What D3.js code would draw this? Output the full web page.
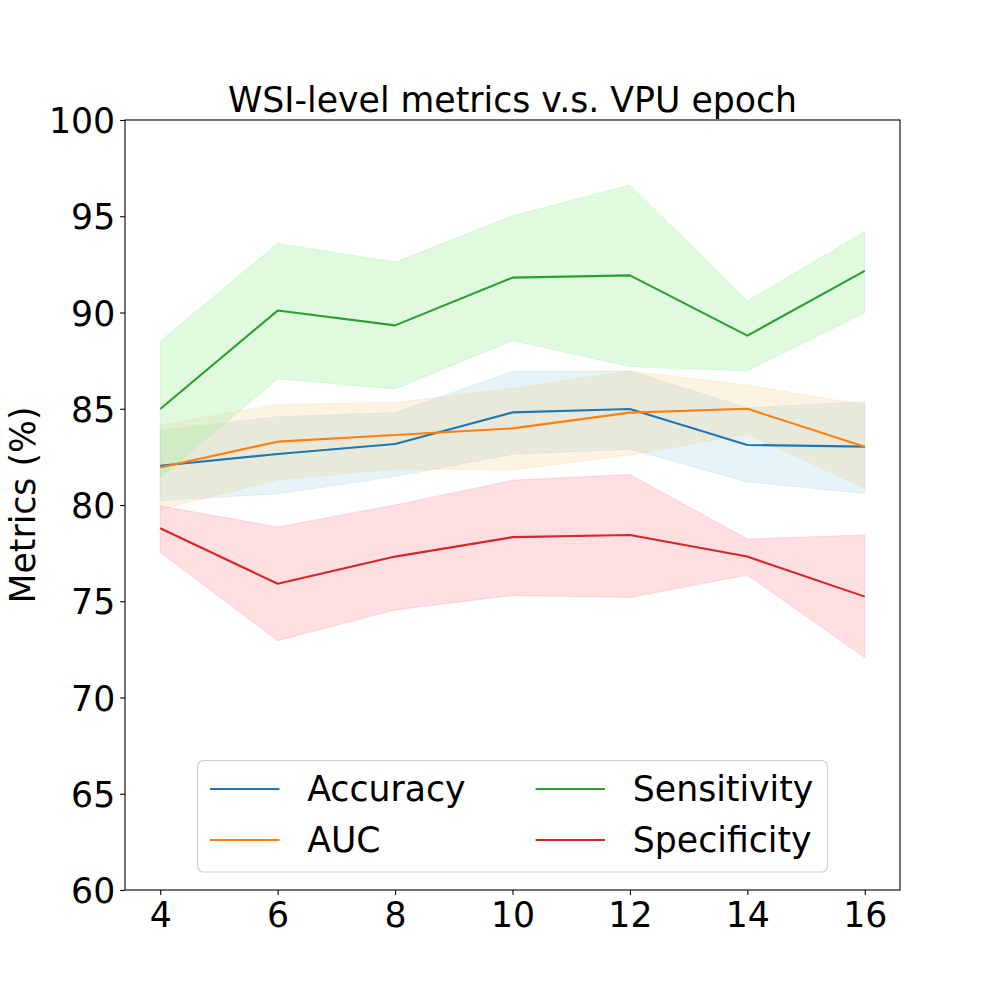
<!DOCTYPE html>
<html>
<head>
<meta charset="utf-8">
<script src="https://cdn.jsdelivr.net/npm/d3@7"></script>
<style>
  body { margin: 0; background: #fff; }
  text { font-family: "DejaVu Sans", sans-serif; fill: #000; }
</style>
</head>
<body>
<div id="chart"></div>
<script>
// epochs on the x axis
let epochs = [4, 6, 8, 10, 12, 14, 16];

// mean and band limits
let accMean = [82.04, 82.65, 83.17, 84.81, 84.99, 83.12, 83.03];
let accLow  = [80.23, 80.58, 81.48, 82.64, 82.90, 81.20, 80.60];
let accHigh = [83.86, 84.58, 84.80, 86.93, 86.96, 85.04, 85.37];

let aucMean = [81.95, 83.29, 83.64, 83.98, 84.80, 85.00, 83.03];
let aucLow  = [79.75, 81.31, 81.87, 81.82, 82.60, 83.69, 80.87];
let aucHigh = [84.16, 85.22, 85.33, 86.05, 86.96, 86.23, 85.19];

let sensMean = [84.99, 90.10, 89.33, 91.81, 91.93, 88.80, 92.16];
let sensLow  = [81.42, 86.55, 86.03, 88.54, 87.19, 86.96, 89.99];
let sensHigh = [88.52, 93.59, 92.62, 95.02, 96.62, 90.60, 94.20];

let specMean = [78.79, 75.91, 77.32, 78.33, 78.44, 77.32, 75.24];
let specLow  = [77.54, 72.95, 74.55, 75.30, 75.20, 76.36, 72.07];
let specHigh = [79.95, 78.86, 80.00, 81.28, 81.59, 78.23, 78.44];

let seriesNames = ["Accuracy", "AUC", "Sensitivity", "Specificity"];
let yTicks = [60, 65, 70, 75, 80, 85, 90, 95, 100];
let xTicks = [4, 6, 8, 10, 12, 14, 16];

let lineColors = ["#1f77b4", "#ff7f0e", "#2ca02c", "#d62728"];
let fillColors = ["rgb(173,216,230)", "rgb(245,195,110)", "rgb(144,238,144)", "rgb(255,150,160)"];
let fillAlpha = [0.3, 0.2, 0.28, 0.3];

let series = [
    {mean: accMean, low: accLow, high: accHigh},
    {mean: aucMean, low: aucLow, high: aucHigh},
    {mean: sensMean, low: sensLow, high: sensHigh},
    {mean: specMean, low: specLow, high: specHigh}
];

// set the dimensions and margins of the graph
let margin = {top: 120, right: 100, bottom: 110, left: 125},
    width = 1000 - margin.left - margin.right,
    height = 1000 - margin.top - margin.bottom;

let fs = 34.7;

let svg = d3.select("#chart")
    .append("svg")
    .attr("width", 1000)
    .attr("height", 1000);

let g = svg.append("g")
    .attr("transform", "translate(" + margin.left + "," + margin.top + ")");

let x = d3.scaleLinear().domain([3.4, 16.6]).range([0, width]);
let y = d3.scaleLinear().domain([60, 100]).range([height, 0]);

// bands
series.forEach(function(s, i) {
    let pts = epochs.map(function(e, j) { return {e: e, lo: s.low[j], hi: s.high[j]}; });
    g.append("path")
        .datum(pts)
        .attr("fill", fillColors[i])
        .attr("fill-opacity", fillAlpha[i])
        .attr("stroke", fillColors[i])
        .attr("stroke-opacity", fillAlpha[i])
        .attr("stroke-width", 1)
        .attr("d", d3.area()
              .x(function(d) { return x(d.e); })
              .y0(function(d) { return y(d.lo); })
              .y1(function(d) { return y(d.hi); }));
});

// mean lines
series.forEach(function(s, i) {
    let pts = epochs.map(function(e, j) { return {e: e, v: s.mean[j]}; });
    g.append("path")
        .datum(pts)
        .attr("fill", "none")
        .attr("stroke", lineColors[i])
        .attr("stroke-width", 2.1)
        .attr("stroke-linejoin", "round")
        .attr("d", d3.line()
              .x(function(d) { return x(d.e); })
              .y(function(d) { return y(d.v); }));
});

// axes
let xAxis = g.append("g")
    .attr("transform", "translate(0," + height + ")")
    .call(d3.axisBottom(x).tickValues(xTicks).tickSize(4.9).tickPadding(4.9).tickSizeOuter(0));
xAxis.selectAll("text").attr("font-size", fs).attr("dy", 0).attr("y", 37);

let yAxis = g.append("g")
    .call(d3.axisLeft(y).tickValues(yTicks).tickSize(4.9).tickPadding(4.9).tickSizeOuter(0));
yAxis.selectAll("text").attr("font-size", fs).attr("dy", 12.7);

svg.selectAll(".domain").remove();
svg.selectAll(".tick line").attr("stroke", "#000").attr("stroke-width", 1.1);

// frame
g.append("rect")
    .attr("width", width)
    .attr("height", height)
    .attr("fill", "none")
    .attr("stroke", "#000")
    .attr("stroke-width", 1.1);

// title and y label
svg.append("text")
    .attr("x", margin.left + width / 2)
    .attr("y", 112)
    .attr("text-anchor", "middle")
    .attr("font-size", fs)
    .text("WSI-level metrics v.s. VPU epoch");

svg.append("text")
    .attr("transform", "translate(35," + (margin.top + height / 2) + ") rotate(-90)")
    .attr("text-anchor", "middle")
    .attr("font-size", fs)
    .text("Metrics (%)");

// legend
let legend = svg.append("g");
legend.append("rect")
    .attr("x", 197.5)
    .attr("y", 760.5)
    .attr("width", 630)
    .attr("height", 111.5)
    .attr("rx", 6)
    .attr("fill", "#fff")
    .attr("fill-opacity", 0.8)
    .attr("stroke", "#d0d0d0")
    .attr("stroke-width", 1.1);

let colX = [210, 535.6];
let rowY = [789, 840];
seriesNames.forEach(function(name, i) {
    let cx = colX[Math.floor(i / 2)], cy = rowY[i % 2];
    legend.append("line")
        .attr("x1", cx).attr("x2", cx + 69.4)
        .attr("y1", cy).attr("y2", cy)
        .attr("stroke", lineColors[i])
        .attr("stroke-width", 2.1);
    legend.append("text")
        .attr("x", cx + 69.4 + 27.8)
        .attr("y", cy + 12)
        .attr("font-size", fs)
        .text(name);
});
</script>
</body>
</html>
